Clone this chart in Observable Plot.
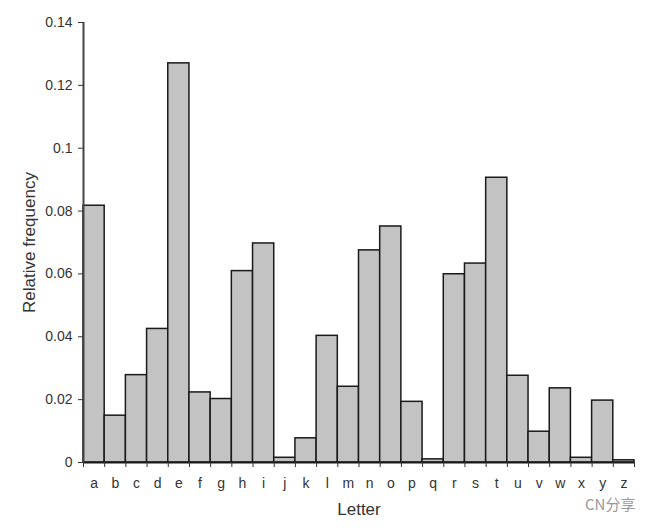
<!DOCTYPE html>
<html>
<head>
<meta charset="utf-8">
<script src="https://cdn.jsdelivr.net/npm/d3@7"></script>
<script src="https://cdn.jsdelivr.net/npm/@observablehq/plot@0.6"></script>
<style>
  body { margin: 0; background: #fff; }
  #chart { position: relative; width: 659px; height: 530px; }
  #wm { position: absolute; left: 585px; top: 493px; font: 15px "Noto Sans CJK SC", sans-serif; color: #999; }
</style>
</head>
<body>
<div id="chart"></div>
<script>
const letters = ["a","b","c","d","e","f","g","h","i","j","k","l","m","n","o","p","q","r","s","t","u","v","w","x","y","z"];
const freqs = [0.0817,0.0149,0.0278,0.0425,0.1270,0.0223,0.0202,0.0609,0.0697,0.0015,0.0077,0.0403,0.0241,0.0675,0.0751,0.0193,0.0010,0.0599,0.0633,0.0906,0.0276,0.0098,0.0236,0.0015,0.0197,0.0007];
const yTicks = [0,0.02,0.04,0.06,0.08,0.1,0.12,0.14];
const xLabel = "Letter";
const yLabel = "Relative frequency";
const watermark = "CN分享";

const data = letters.map((l, i) => ({letter: l, i, freq: freqs[i]}));

const plot = Plot.plot({
  width: 659,
  height: 530,
  marginLeft: 83,
  marginRight: 25,
  marginTop: 22,
  marginBottom: 68,
  style: {fontFamily: "'Liberation Sans', Arial, sans-serif", fontSize: "14px", color: "#333", background: "#fff"},
  x: {domain: [0, letters.length]},
  y: {domain: [0, 0.14]},
  marks: [
    Plot.rectY(data, {x1: "i", x2: d => d.i + 1, y: "freq", fill: "#c3c3c3", stroke: "#1a1a1a", strokeWidth: 1.5}),
    Plot.ruleY([0], {stroke: "#1a1a1a", strokeWidth: 2}),
    Plot.ruleX([0], {stroke: "#444", strokeWidth: 2}),
    Plot.axisY({ticks: yTicks, tickSize: 5, tickPadding: 6, tickFormat: d => String(+d.toFixed(2)),
      label: yLabel, labelAnchor: "center", labelArrow: "none", labelOffset: 61, fontSize: 14}),
    Plot.axisX({ticks: d3.range(letters.length + 1), tickSize: 5, tickFormat: () => "", label: null, stroke: "#333"}),
    Plot.axisX({ticks: d3.range(letters.length).map(i => i + 0.5), tickSize: 0, tickPadding: 16,
      tickFormat: d => letters[Math.floor(d)], label: xLabel, labelAnchor: "center", labelArrow: "none", labelOffset: 52, fontSize: 14})
  ]
});
plot.querySelectorAll("g[aria-label='y-axis label'] text, g[aria-label='x-axis label'] text").forEach(t => t.setAttribute("font-size", 17));
document.getElementById("chart").appendChild(plot);
const wm = document.createElement("div");
wm.id = "wm";
wm.textContent = watermark;
document.getElementById("chart").appendChild(wm);
</script>
</body>
</html>
